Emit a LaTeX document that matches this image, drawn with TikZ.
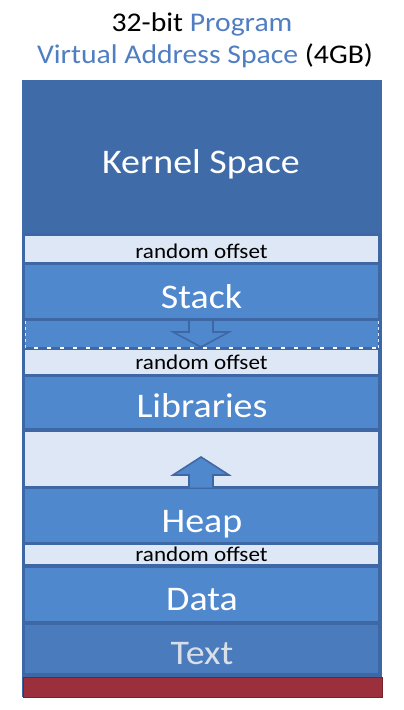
\documentclass[tikz,border=0pt]{standalone}
\usepackage{fontspec}
\setmainfont{Carlito}[FakeStretch=1.1]
\definecolor{frameblue}{HTML}{3E68A5}
\definecolor{kernelblue}{HTML}{3F6BA8}
\definecolor{blockblue}{HTML}{5088CE}
\definecolor{textblue}{HTML}{4A7BBD}
\definecolor{lightband}{HTML}{DEE7F5}
\definecolor{titleblue}{HTML}{4F7EC2}
\definecolor{redband}{HTML}{9B2F3B}
\definecolor{redborder}{HTML}{76232C}
\definecolor{textwhite}{HTML}{D9DFE8}
\begin{document}
\begin{tikzpicture}[x=1pt,y=-1pt,
  band/.style={rectangle, draw=none, inner sep=0pt, outer sep=0pt, anchor=north west, minimum width=353pt},
  bluebox/.style={band, fill=blockblue},
  lightbox/.style={band, fill=lightband},
  biglabel/.style={anchor=base, inner sep=0pt, text=white, font=\fontsize{34.5}{40}\selectfont},
  smalllabel/.style={anchor=base, inner sep=0pt, text=black, font=\fontsize{21}{24}\selectfont},
  titletext/.style={anchor=base, inner sep=0pt, font=\fontsize{27}{32}\selectfont},
  arrowline/.style={draw=frameblue, line width=1.6pt, line join=miter}
]
\useasboundingbox (0,0) rectangle (404,710);
\fill[white] (0,0) rectangle (404,710);

% title
\node[titletext] (title1) at (202,31) {32-bit \textcolor{titleblue}{Program}};
\node[titletext] (title2) at (205,63) {\textcolor{titleblue}{Virtual Address Space} (4GB)};

% frame
\node[rectangle, fill=frameblue, inner sep=0pt, anchor=north west, minimum width=360pt, minimum height=617pt] (frame) at (22,80) {};
\node[rectangle, fill=kernelblue, inner sep=0pt, anchor=north west, minimum width=360pt, minimum height=153pt] (kernel) at (22,80) {};

% blocks
\node[lightbox, minimum height=26pt] (rand1) at (25,236) {};
\node[bluebox, minimum height=53pt] (stack) at (25,265) {};
\node[bluebox, minimum height=27pt] (gap) at (25,321) {};
\node[lightbox, minimum height=24pt] (rand2) at (25,350) {};
\node[bluebox, minimum height=51pt] (libs) at (25,377) {};
\node[lightbox, minimum height=54pt] (free) at (25,432) {};
\node[bluebox, minimum height=53pt] (heap) at (25,489) {};
\node[lightbox, minimum height=19pt] (rand3) at (25,545) {};
\node[bluebox, minimum height=53pt] (data) at (25,568) {};
\node[band, fill=textblue, minimum height=48pt] (textseg) at (25,625) {};
\node[rectangle, fill=redband, draw=redborder, line width=1.2pt, inner sep=0pt, anchor=north west, minimum width=359pt, minimum height=20pt] (red) at (22.5,676.5) {};

% dashed edges of the growth gap
\draw[white, line width=2.4pt] (gap.south west) -- (gap.south east);
\draw[frameblue, line width=2.4pt, dash pattern=on 9pt off 4pt] (gap.south west) -- (gap.south east);
\draw[white!80!blockblue, line width=0.8pt, dash pattern=on 3pt off 3pt] (gap.north west) -- (gap.south west);
\draw[white!80!blockblue, line width=0.8pt, dash pattern=on 3pt off 3pt] (gap.north east) -- (gap.south east);

% labels
\node[biglabel] (kernellabel) at (201,173) {Kernel Space};
\node[smalllabel] (rand1label) at (201.5,258.5) {random offset};
\node[biglabel] (stacklabel) at (201.5,308) {Stack};
\node[smalllabel] (rand2label) at (201.5,369.5) {random offset};
\node[biglabel] (libslabel) at (202,417) {Libraries};
\node[biglabel] (heaplabel) at (202,532) {Heap};
\node[smalllabel] (rand3label) at (201.5,561.5) {random offset};
\node[biglabel] (datalabel) at (202,610) {Data};
\node[biglabel, text=textwhite] (textlabel) at (202,664) {Text};

% growth arrows
\draw[arrowline] (189,319) -- (189,332) -- (173,332) -- (201,347) -- (229,332) -- (213,332) -- (213,319);
\draw[arrowline, fill=blockblue] (189,487.5) -- (189,475) -- (173,475) -- (201,457) -- (229,475) -- (213,475) -- (213,487.5);
\end{tikzpicture}
\end{document}
